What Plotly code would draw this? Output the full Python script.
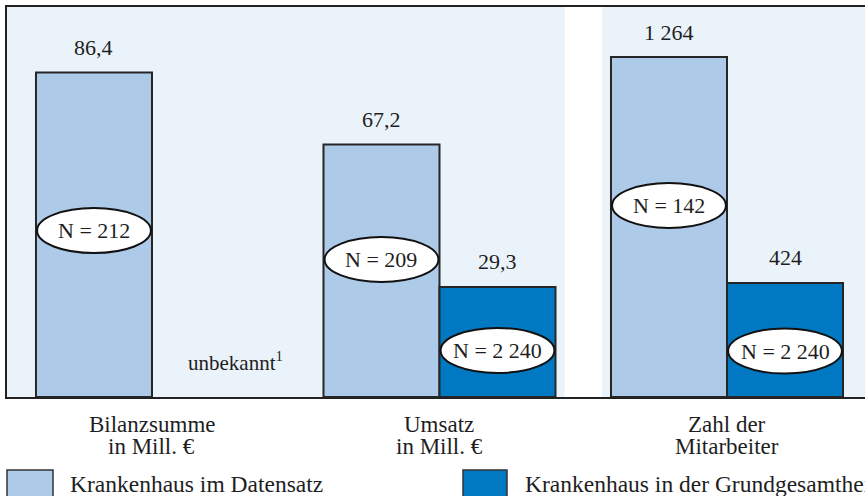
import plotly.graph_objects as go

# ---- data ----
categories = ["Bilanzsumme<br>in Mill. €", "Umsatz<br>in Mill. €", "Zahl der<br>Mitarbeiter"]
cat_line1 = ["Bilanzsumme", "Umsatz", "Zahl der"]
cat_line2 = ["in Mill. €", "in Mill. €", "Mitarbeiter"]
series_names = ["Krankenhaus im Datensatz", "Krankenhaus in der Grundgesamtheit"]

# values on the "Mill. €" scale (first two groups)
euro_datensatz = [86.4, 67.2]
euro_grundgesamtheit = [None, 29.3]
# values on the employee scale (third group)
ma_datensatz = [1264]
ma_grundgesamtheit = [424]

# sample sizes shown in ellipses
n_datensatz = [212, 209, 142]
n_grundgesamtheit = [None, 2240, 2240]
# vertical position of the ellipse labels (in axis units)
n_pos_datensatz = [44.3, 36.6, 712]
n_pos_grundgesamtheit = [None, 12.4, 171]

unknown_note = "unbekannt<sup>1</sup>"

# ---- style ----
FONT = "Liberation Serif"
TXT = "#1e1e1e"
LIGHT = "#adcae8"
DARK = "#0079c2"
PANEL = "#ebf3fa"
EDGE = "#262626"
BW = 0.4035  # bar width in category units


def fmt(v):
    if v is None:
        return ""
    if float(v).is_integer():
        s = f"{int(v):,}".replace(",", " ")
    else:
        s = f"{v:,.1f}".replace(",", " ").replace(".", ",")
    return s


x_euro = [0, 1]
x_ma = [2]

fig = go.Figure()
fig.add_trace(go.Bar(x=x_euro, y=euro_datensatz, offset=-BW, width=BW,
                     marker=dict(color=LIGHT, line=dict(color=EDGE, width=2)),
                     name=series_names[0], yaxis="y", showlegend=False, hoverinfo="skip"))
fig.add_trace(go.Bar(x=x_euro, y=euro_grundgesamtheit, offset=0, width=BW,
                     marker=dict(color=DARK, line=dict(color=EDGE, width=2)),
                     name=series_names[1], yaxis="y", showlegend=False, hoverinfo="skip"))
fig.add_trace(go.Bar(x=x_ma, y=ma_datensatz, offset=-BW, width=BW,
                     marker=dict(color=LIGHT, line=dict(color=EDGE, width=2)),
                     name=series_names[0], yaxis="y2", showlegend=False, hoverinfo="skip"))
fig.add_trace(go.Bar(x=x_ma, y=ma_grundgesamtheit, offset=0, width=BW,
                     marker=dict(color=DARK, line=dict(color=EDGE, width=2)),
                     name=series_names[1], yaxis="y2", showlegend=False, hoverinfo="skip"))

shapes = []
annotations = []

# panel backgrounds
shapes.append(dict(type="rect", xref="x", yref="paper", x0=-0.6, x1=1.435, y0=0, y1=1,
                   fillcolor=PANEL, line=dict(width=0), layer="below"))
shapes.append(dict(type="rect", xref="x", yref="paper", x0=1.565, x1=3, y0=0, y1=1,
                   fillcolor=PANEL, line=dict(width=0), layer="below"))

# value labels
all_d = [("y", x_euro[i], euro_datensatz[i]) for i in range(2)] + [("y2", x_ma[0], ma_datensatz[0])]
all_g = [("y", x_euro[i], euro_grundgesamtheit[i]) for i in range(2)] + [("y2", x_ma[0], ma_grundgesamtheit[0])]
for yref, xc, v in all_d:
    annotations.append(dict(x=xc - BW / 2, y=v, xref="x", yref=yref, text=fmt(v), showarrow=False,
                            yanchor="middle", yshift=25, font=dict(family=FONT, size=22, color=TXT)))
for yref, xc, v in all_g:
    if v is None:
        continue
    annotations.append(dict(x=xc + BW / 2, y=v, xref="x", yref=yref, text=fmt(v), showarrow=False,
                            yanchor="middle", yshift=25, font=dict(family=FONT, size=22, color=TXT)))

# ellipses with N
yrefs = ["y", "y", "y2"]
for i in range(3):
    for n, pos, xc in ((n_datensatz[i], n_pos_datensatz[i], i - BW / 2),
                       (n_grundgesamtheit[i], n_pos_grundgesamtheit[i], i + BW / 2)):
        if n is None:
            continue
        shapes.append(dict(type="circle", xref="x", yref=yrefs[i], x0=xc - 0.198, x1=xc + 0.198,
                           ysizemode="pixel", yanchor=pos, y0=-22.5, y1=22.5,
                           fillcolor="white", line=dict(color="#111", width=2), layer="above"))
        annotations.append(dict(x=xc, y=pos, xref="x", yref=yrefs[i], text="N = " + fmt(n),
                                showarrow=False, yanchor="middle",
                                font=dict(family=FONT, size=22, color=TXT)))

# unknown note
annotations.append(dict(x=0.29, y=0, xref="x", yref="y", text=unknown_note, showarrow=False,
                        yanchor="middle", yshift=36, font=dict(family=FONT, size=21, color=TXT)))

# category labels
for i in range(3):
    annotations.append(dict(x=i, y=0, xref="x", yref="paper", text=cat_line1[i], showarrow=False,
                            yanchor="middle", yshift=-27, font=dict(family=FONT, size=23, color=TXT)))
    annotations.append(dict(x=i, y=0, xref="x", yref="paper", text=cat_line2[i], showarrow=False,
                            yanchor="middle", yshift=-49, font=dict(family=FONT, size=23, color=TXT)))

# legend
W = 858.0
H = 390.0
def px(X):
    return (X - 7) / W
def py(Y):
    return (397 - Y) / H

shapes.append(dict(type="rect", xref="paper", yref="paper", x0=px(7), x1=px(53), y0=py(470), y1=py(505),
                   fillcolor=LIGHT, line=dict(color="#333", width=1.5)))
shapes.append(dict(type="rect", xref="paper", yref="paper", x0=px(463), x1=px(507), y0=py(470), y1=py(505),
                   fillcolor=DARK, line=dict(color="#333", width=1.5)))
annotations.append(dict(x=px(68), y=py(484), xref="paper", yref="paper", text=series_names[0],
                        showarrow=False, xanchor="left", yanchor="middle",
                        font=dict(family=FONT, size=23.5, color=TXT)))
annotations.append(dict(x=px(523), y=py(484), xref="paper", yref="paper", text=series_names[1],
                        showarrow=False, xanchor="left", yanchor="middle",
                        font=dict(family=FONT, size=23.5, color=TXT)))

fig.update_layout(
    width=865, height=496,
    margin=dict(l=7, r=0, t=7, b=99),
    paper_bgcolor="white", plot_bgcolor="white",
    barmode="overlay",
    shapes=shapes, annotations=annotations,
    xaxis=dict(range=[-0.5043, 2.48], showgrid=False, zeroline=False, showticklabels=False,
               ticks="", showline=True, mirror=True, linecolor="#222", linewidth=2, fixedrange=True),
    yaxis=dict(range=[0, 103.8], showgrid=False, zeroline=False, showticklabels=False,
               ticks="", showline=True, linecolor="#222", linewidth=2, fixedrange=True),
    yaxis2=dict(range=[0, 1450], overlaying="y", showgrid=False, zeroline=False,
                showticklabels=False, ticks="", showline=False, fixedrange=True),
    font=dict(family=FONT),
)

fig.write_html("out.html", config={"displayModeBar": False},
               post_script="document.body.style.margin='0';document.body.style.overflow='hidden';")
